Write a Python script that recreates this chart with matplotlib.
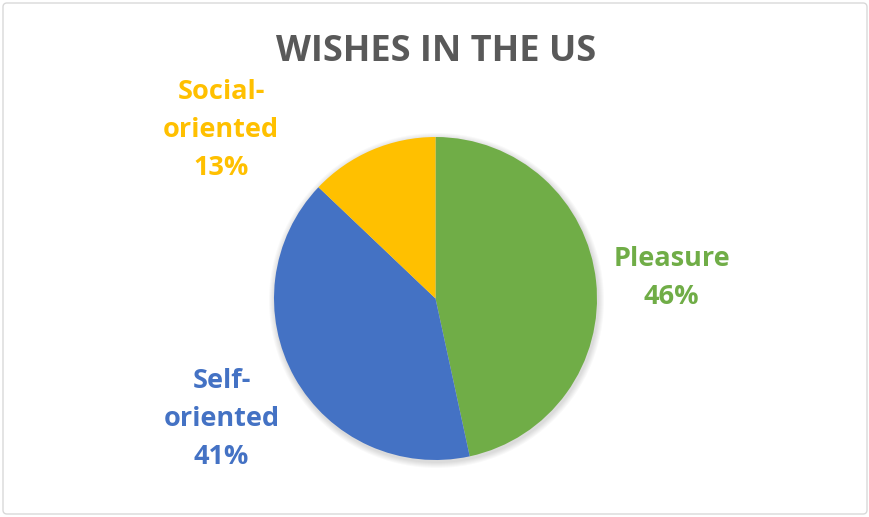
import matplotlib
matplotlib.use("Agg")
import matplotlib.pyplot as plt
from matplotlib.patches import Circle, FancyBboxPatch

TITLE = "WISHES IN THE US"
CATEGORIES = ["Pleasure", "Self-\noriented", "Social-\noriented"]
SHARES = [46.6, 40.5, 12.9]          # slice sizes as drawn
LABEL_PCT = ["46%", "41%", "13%"]    # percentages as printed
COLORS = ["#70AD47", "#4472C4", "#FFC000"]

W, H = 870, 517
fig = plt.figure(figsize=(W / 100, H / 100), dpi=100)
ax = fig.add_axes([0, 0, 1, 1])

# chart frame
ax.add_patch(FancyBboxPatch((3, 3), W - 6, H - 6, boxstyle="round,pad=0,rounding_size=4",
                            fill=False, ec="#D9D9D9", lw=1))

cx, cy, r = 435.5, H - 298.5, 161.5

# soft shadow under the pie
for i in range(6):
    ax.add_patch(Circle((cx + 1, cy - 2), r + 1 + i, color="black", alpha=0.025, lw=0, zorder=0))

ax.pie(SHARES, colors=COLORS, startangle=90, counterclock=False,
       center=(cx, cy), radius=r, frame=True,
       wedgeprops=dict(linewidth=0, zorder=1))
ax.set_xlim(0, W)
ax.set_ylim(0, H)
ax.set_aspect("equal")
ax.axis("off")

ax.text(436, H - 52, TITLE, ha="center", va="center", fontsize=26,
        fontweight="bold", color="#595959", family="Open Sans")

label_pos = [(671.5, H - 278), (221.5, H - 419), (221, H - 130)]
for name, pct, col, (x, y) in zip(CATEGORIES, LABEL_PCT, COLORS, label_pos):
    ax.text(x, y, f"{name}\n{pct}", ha="center", va="center", fontsize=19.5,
            fontweight="bold", color=col, family="Open Sans", linespacing=1.58)

fig.savefig("out.png", dpi=100)
